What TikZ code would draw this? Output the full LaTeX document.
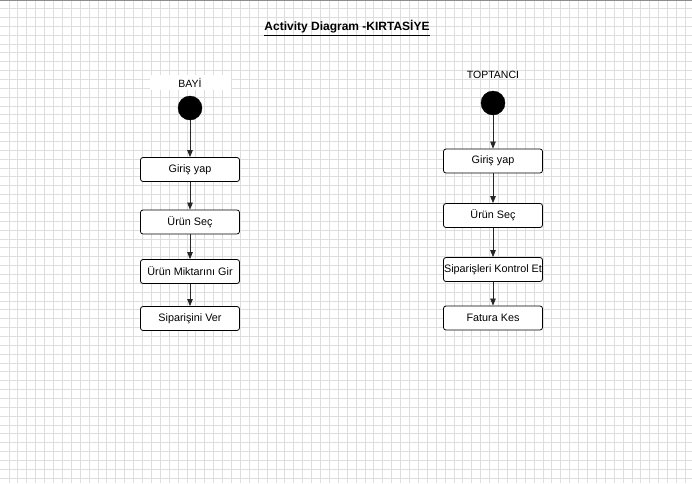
\documentclass[tikz,border=0pt]{standalone}
\usepackage{fontspec}
\setmainfont{Liberation Sans}
\usetikzlibrary{arrows.meta}
\definecolor{gridc}{RGB}{222,222,222}
\tikzset{
  actbox/.style={draw=black, fill=white, rounded corners=2.5pt, line width=0.8pt,
    minimum width=99pt, minimum height=24pt, inner sep=0pt, font=\fontsize{10.8}{12}\selectfont},
  initnode/.style={circle, fill=black, draw=black, minimum size=24pt, inner sep=0pt},
  flow/.style={draw=black!85, line width=0.7pt, -{Triangle[length=7pt,width=5.5pt]}},
  lane/.style={font=\fontsize{10.5}{12}\selectfont, inner sep=1pt}
}
\begin{document}
\begin{tikzpicture}[x=1pt,y=-1pt]
\useasboundingbox (0,0) rectangle (692,483);
\fill[white] (0,0) rectangle (692,483);
\foreach \i in {0,...,77} {\draw[gridc, line width=0.9pt] ({9+8.9*\i},0) -- ({9+8.9*\i},483);}
\foreach \j in {0,...,54} {\draw[gridc, line width=0.9pt] (0,{8.6+8.86*\j}) -- (692,{8.6+8.86*\j});}
\draw[black!45, line width=1.2pt] (0,0.5) -- (692,0.5);

\node[font=\bfseries\fontsize{12}{14}\selectfont] (title) at (347,28) {\underline{Activity Diagram -KIRTASİYE}};

% BAYI lane
\fill[white] (150,75) rectangle (231,90);
\node[lane] (bayi) at (190,82.5) {BAYİ};
\node[initnode] (s1) at (190,108) {};
\node[actbox] (a1) at (190,169.5) {Giriş yap};
\node[actbox] (a2) at (190,222) {Ürün Seç};
\node[actbox] (a3) at (190,271.5) {Ürün Miktarını Gir};
\node[actbox] (a4) at (190,318.5) {Siparişini Ver};
\draw[flow] (s1) -- (a1);
\draw[flow] (a1) -- (a2);
\draw[flow] (a2) -- (a3);
\draw[flow] (a3) -- (a4);

% TOPTANCI lane
\node[lane] (top) at (493,75) {TOPTANCI};
\node[initnode] (s2) at (493,103) {};
\node[actbox] (b1) at (493,161) {Giriş yap};
\node[actbox] (b2) at (493,215.5) {Ürün Seç};
\node[actbox] (b3) at (493,269.5) {Siparişleri Kontrol Et};
\node[actbox] (b4) at (493,318) {Fatura Kes};
\draw[flow] (s2) -- (b1);
\draw[flow] (b1) -- (b2);
\draw[flow] (b2) -- (b3);
\draw[flow] (b3) -- (b4);
\end{tikzpicture}
\end{document}
